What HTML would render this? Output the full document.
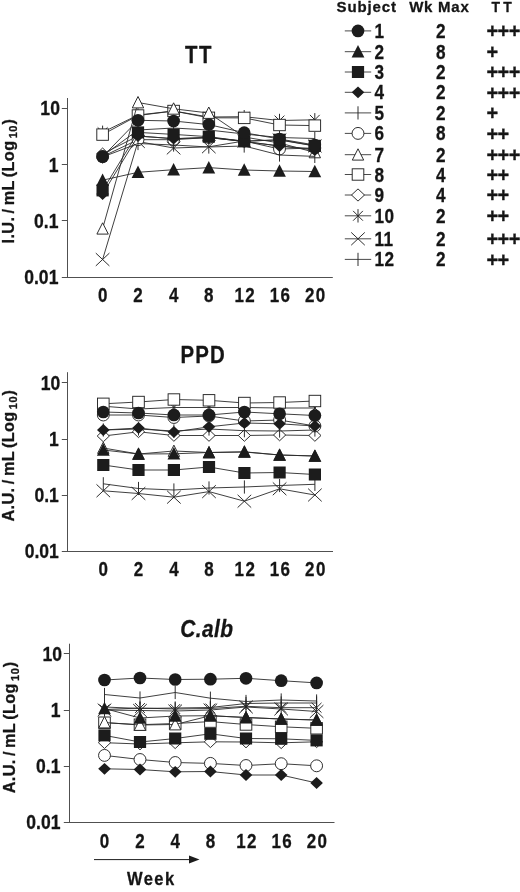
<!DOCTYPE html>
<html lang="en">
<head>
<meta charset="utf-8">
<title>Figure</title>
<style>
html,body{margin:0;padding:0;background:#fff;}
body{width:520px;height:892px;overflow:hidden;}
svg{display:block;will-change:transform;opacity:0.999;}
svg text{font-family:"Liberation Sans", Arial, Helvetica, sans-serif;fill:#151515;stroke:#151515;stroke-width:0.3px;stroke-linejoin:round;}
</style>
</head>
<body>
<svg width="520" height="892" viewBox="0 0 520 892">
<rect width="520" height="892" fill="#fff"/>
<g id="chart-tt">
<path d="M67.5 98.0V278.0M61.8 277.5H332.8" stroke="#505050" stroke-width="1" fill="none"/>
<path d="M61.8 108.5H67.5" stroke="#505050" stroke-width="1" fill="none"/>
<path d="M61.8 164.5H67.5" stroke="#505050" stroke-width="1" fill="none"/>
<path d="M61.8 220.5H67.5" stroke="#505050" stroke-width="1" fill="none"/>
<text transform="translate(59.90 115.20) scale(0.9 1)" text-anchor="end" style="font-size:19.5px;font-weight:700;">10</text>
<text transform="translate(58.40 171.50) scale(0.9 1)" text-anchor="end" style="font-size:19.5px;font-weight:700;">1</text>
<text transform="translate(58.40 227.80) scale(0.9 1)" text-anchor="end" style="font-size:19.5px;font-weight:700;">0.1</text>
<text transform="translate(58.40 284.10) scale(0.9 1)" text-anchor="end" style="font-size:19.5px;font-weight:700;">0.01</text>
<text transform="translate(102.60 302.40) scale(0.87 1)" text-anchor="middle" style="font-size:19.5px;font-weight:700;">0</text>
<text transform="translate(138.00 302.40) scale(0.87 1)" text-anchor="middle" style="font-size:19.5px;font-weight:700;">2</text>
<text transform="translate(173.60 302.40) scale(0.87 1)" text-anchor="middle" style="font-size:19.5px;font-weight:700;">4</text>
<text transform="translate(208.80 302.40) scale(0.87 1)" text-anchor="middle" style="font-size:19.5px;font-weight:700;">8</text>
<text transform="translate(245.20 302.40) scale(0.87 1)" text-anchor="middle" style="font-size:19.5px;font-weight:700;letter-spacing:1.6px;">12</text>
<text transform="translate(280.50 302.40) scale(0.87 1)" text-anchor="middle" style="font-size:19.5px;font-weight:700;letter-spacing:1.6px;">16</text>
<text transform="translate(315.80 302.40) scale(0.87 1)" text-anchor="middle" style="font-size:19.5px;font-weight:700;letter-spacing:1.6px;">20</text>
<text transform="translate(199.05 62.80) scale(0.83 1)" text-anchor="middle" style="font-size:24.6px;font-weight:700;letter-spacing:1.8px;">TT</text>
<text transform="translate(13.70 181.15) rotate(-90) scale(1.0 1)" text-anchor="middle" style="word-spacing:-1.6px;font-size:16.3px;font-weight:700;letter-spacing:0.35px;">I.U. / mL (Log<tspan style="word-spacing:-1.6px;font-size:11px;letter-spacing:0.6px" dy="3.6" dx="2.2">10</tspan><tspan dy="-3.6" dx="0.3">)</tspan></text>
<polyline points="102.6,156.0 138.0,130.0 173.6,128.0 208.8,130.0 244.2,134.0 279.5,137.5 314.8,138.5" fill="none" stroke="#2a2a2a" stroke-width="0.9"/>
<path d="M102.6 149.4V162.6" stroke="#242424" stroke-width="0.95" fill="none"/>
<path d="M138.0 123.4V136.6" stroke="#242424" stroke-width="0.95" fill="none"/>
<path d="M173.6 121.4V134.6" stroke="#242424" stroke-width="0.95" fill="none"/>
<path d="M208.8 123.4V136.6" stroke="#242424" stroke-width="0.95" fill="none"/>
<path d="M244.2 127.4V140.6" stroke="#242424" stroke-width="0.95" fill="none"/>
<path d="M279.5 130.9V144.1" stroke="#242424" stroke-width="0.95" fill="none"/>
<path d="M314.8 131.9V145.1" stroke="#242424" stroke-width="0.95" fill="none"/>
<polyline points="102.6,259.5 138.0,141.5 173.6,148.0 208.8,146.8 244.2,141.0 279.5,140.0 314.8,146.0" fill="none" stroke="#2a2a2a" stroke-width="0.9"/>
<path d="M95.8 253.1L109.4 265.9M95.8 265.9L109.4 253.1" stroke="#242424" stroke-width="0.95" fill="none"/>
<path d="M131.2 135.1L144.8 147.9M131.2 147.9L144.8 135.1" stroke="#242424" stroke-width="0.95" fill="none"/>
<path d="M166.8 141.6L180.4 154.4M166.8 154.4L180.4 141.6" stroke="#242424" stroke-width="0.95" fill="none"/>
<path d="M202.0 140.4L215.6 153.2M202.0 153.2L215.6 140.4" stroke="#242424" stroke-width="0.95" fill="none"/>
<path d="M237.4 134.6L251.0 147.4M237.4 147.4L251.0 134.6" stroke="#242424" stroke-width="0.95" fill="none"/>
<path d="M272.7 133.6L286.3 146.4M272.7 146.4L286.3 133.6" stroke="#242424" stroke-width="0.95" fill="none"/>
<path d="M308.0 139.6L321.6 152.4M308.0 152.4L321.6 139.6" stroke="#242424" stroke-width="0.95" fill="none"/>
<polyline points="102.6,132.3 138.0,115.0 173.6,111.0 208.8,117.0 244.2,116.7 279.5,120.5 314.8,119.8" fill="none" stroke="#2a2a2a" stroke-width="0.9"/>
<path d="M97.7 127.4L107.5 137.2M97.7 137.2L107.5 127.4M102.6 125.6V139.0" stroke="#242424" stroke-width="0.95" fill="none"/>
<path d="M133.1 110.1L142.9 119.9M133.1 119.9L142.9 110.1M138.0 108.3V121.7" stroke="#242424" stroke-width="0.95" fill="none"/>
<path d="M168.7 106.1L178.5 115.9M168.7 115.9L178.5 106.1M173.6 104.3V117.7" stroke="#242424" stroke-width="0.95" fill="none"/>
<path d="M203.9 112.1L213.7 121.9M203.9 121.9L213.7 112.1M208.8 110.3V123.7" stroke="#242424" stroke-width="0.95" fill="none"/>
<path d="M239.3 111.8L249.1 121.6M239.3 121.6L249.1 111.8M244.2 110.0V123.4" stroke="#242424" stroke-width="0.95" fill="none"/>
<path d="M274.6 115.6L284.4 125.4M274.6 125.4L284.4 115.6M279.5 113.8V127.2" stroke="#242424" stroke-width="0.95" fill="none"/>
<path d="M309.9 114.9L319.7 124.7M309.9 124.7L319.7 114.9M314.8 113.1V126.5" stroke="#242424" stroke-width="0.95" fill="none"/>
<polyline points="102.6,153.8 138.0,136.0 173.6,138.7 208.8,137.5 244.2,141.5 279.5,146.0 314.8,149.0" fill="none" stroke="#2a2a2a" stroke-width="0.9"/>
<path d="M96.5 153.8L102.6 148.0L108.7 153.8L102.6 159.6Z" fill="#fff" stroke="#242424" stroke-width="0.95"/>
<path d="M131.9 136.0L138.0 130.2L144.1 136.0L138.0 141.8Z" fill="#fff" stroke="#242424" stroke-width="0.95"/>
<path d="M167.5 138.7L173.6 132.9L179.7 138.7L173.6 144.5Z" fill="#fff" stroke="#242424" stroke-width="0.95"/>
<path d="M202.7 137.5L208.8 131.7L214.9 137.5L208.8 143.3Z" fill="#fff" stroke="#242424" stroke-width="0.95"/>
<path d="M238.1 141.5L244.2 135.7L250.3 141.5L244.2 147.3Z" fill="#fff" stroke="#242424" stroke-width="0.95"/>
<path d="M273.4 146.0L279.5 140.2L285.6 146.0L279.5 151.8Z" fill="#fff" stroke="#242424" stroke-width="0.95"/>
<path d="M308.7 149.0L314.8 143.2L320.9 149.0L314.8 154.8Z" fill="#fff" stroke="#242424" stroke-width="0.95"/>
<polyline points="102.6,134.6 138.0,115.5 173.6,111.0 208.8,117.8 244.2,117.9 279.5,125.0 314.8,125.6" fill="none" stroke="#2a2a2a" stroke-width="0.9"/>
<rect x="96.8" y="128.9" width="11.6" height="11.4" fill="#fff" stroke="#242424" stroke-width="0.95"/>
<rect x="132.2" y="109.8" width="11.6" height="11.4" fill="#fff" stroke="#242424" stroke-width="0.95"/>
<rect x="167.8" y="105.3" width="11.6" height="11.4" fill="#fff" stroke="#242424" stroke-width="0.95"/>
<rect x="203.0" y="112.1" width="11.6" height="11.4" fill="#fff" stroke="#242424" stroke-width="0.95"/>
<rect x="238.4" y="112.2" width="11.6" height="11.4" fill="#fff" stroke="#242424" stroke-width="0.95"/>
<rect x="273.7" y="119.3" width="11.6" height="11.4" fill="#fff" stroke="#242424" stroke-width="0.95"/>
<rect x="309.0" y="119.9" width="11.6" height="11.4" fill="#fff" stroke="#242424" stroke-width="0.95"/>
<polyline points="102.6,228.7 138.0,102.5 173.6,108.8 208.8,113.0 244.2,137.0 279.5,143.0 314.8,152.4" fill="none" stroke="#2a2a2a" stroke-width="0.9"/>
<path d="M96.9 234.1L102.6 222.8L108.3 234.1Z" fill="#fff" stroke="#242424" stroke-width="0.95" stroke-linejoin="miter"/>
<path d="M132.3 107.9L138.0 96.5L143.7 107.9Z" fill="#fff" stroke="#242424" stroke-width="0.95" stroke-linejoin="miter"/>
<path d="M167.9 114.2L173.6 102.8L179.3 114.2Z" fill="#fff" stroke="#242424" stroke-width="0.95" stroke-linejoin="miter"/>
<path d="M203.1 118.4L208.8 107.0L214.5 118.4Z" fill="#fff" stroke="#242424" stroke-width="0.95" stroke-linejoin="miter"/>
<path d="M238.5 142.4L244.2 131.1L249.9 142.4Z" fill="#fff" stroke="#242424" stroke-width="0.95" stroke-linejoin="miter"/>
<path d="M273.8 148.4L279.5 137.1L285.2 148.4Z" fill="#fff" stroke="#242424" stroke-width="0.95" stroke-linejoin="miter"/>
<path d="M309.1 157.8L314.8 146.5L320.5 157.8Z" fill="#fff" stroke="#242424" stroke-width="0.95" stroke-linejoin="miter"/>
<polyline points="102.6,156.5 138.0,139.7 173.6,139.7 208.8,137.5 244.2,141.0 279.5,149.0 314.8,148.0" fill="none" stroke="#2a2a2a" stroke-width="0.9"/>
<circle cx="102.6" cy="156.5" r="5.95" fill="#fff" stroke="#242424" stroke-width="0.95"/>
<circle cx="138.0" cy="139.7" r="5.95" fill="#fff" stroke="#242424" stroke-width="0.95"/>
<circle cx="173.6" cy="139.7" r="5.95" fill="#fff" stroke="#242424" stroke-width="0.95"/>
<circle cx="208.8" cy="137.5" r="5.95" fill="#fff" stroke="#242424" stroke-width="0.95"/>
<circle cx="244.2" cy="141.0" r="5.95" fill="#fff" stroke="#242424" stroke-width="0.95"/>
<circle cx="279.5" cy="149.0" r="5.95" fill="#fff" stroke="#242424" stroke-width="0.95"/>
<circle cx="314.8" cy="148.0" r="5.95" fill="#fff" stroke="#242424" stroke-width="0.95"/>
<polyline points="102.6,157.0 138.0,143.5 173.6,145.0 208.8,147.0 244.2,146.0 279.5,155.0 314.8,156.4" fill="none" stroke="#2a2a2a" stroke-width="0.9"/>
<path d="M102.6 150.4V163.6" stroke="#242424" stroke-width="0.95" fill="none"/>
<path d="M138.0 136.9V150.1" stroke="#242424" stroke-width="0.95" fill="none"/>
<path d="M173.6 138.4V151.6" stroke="#242424" stroke-width="0.95" fill="none"/>
<path d="M208.8 140.4V153.6" stroke="#242424" stroke-width="0.95" fill="none"/>
<path d="M244.2 139.4V152.6" stroke="#242424" stroke-width="0.95" fill="none"/>
<path d="M279.5 148.4V161.6" stroke="#242424" stroke-width="0.95" fill="none"/>
<path d="M314.8 149.8V163.0" stroke="#242424" stroke-width="0.95" fill="none"/>
<polyline points="102.6,194.0 138.0,136.0 173.6,138.7 208.8,137.5 244.2,141.5 279.5,146.0 314.8,150.0" fill="none" stroke="#2a2a2a" stroke-width="0.9"/>
<path d="M96.3 194.0L102.6 188.1L108.9 194.0L102.6 199.9Z" fill="#1c1c1c"/>
<path d="M131.7 136.0L138.0 130.1L144.3 136.0L138.0 141.9Z" fill="#1c1c1c"/>
<path d="M167.3 138.7L173.6 132.8L179.9 138.7L173.6 144.6Z" fill="#1c1c1c"/>
<path d="M202.5 137.5L208.8 131.6L215.1 137.5L208.8 143.4Z" fill="#1c1c1c"/>
<path d="M237.9 141.5L244.2 135.6L250.5 141.5L244.2 147.4Z" fill="#1c1c1c"/>
<path d="M273.2 146.0L279.5 140.1L285.8 146.0L279.5 151.9Z" fill="#1c1c1c"/>
<path d="M308.5 150.0L314.8 144.1L321.1 150.0L314.8 155.9Z" fill="#1c1c1c"/>
<polyline points="102.6,190.4 138.0,132.4 173.6,134.4 208.8,136.7 244.2,141.4 279.5,139.7 314.8,145.8" fill="none" stroke="#2a2a2a" stroke-width="0.9"/>
<rect x="96.5" y="184.4" width="12.2" height="12.0" fill="#1c1c1c"/>
<rect x="131.9" y="126.4" width="12.2" height="12.0" fill="#1c1c1c"/>
<rect x="167.5" y="128.4" width="12.2" height="12.0" fill="#1c1c1c"/>
<rect x="202.7" y="130.7" width="12.2" height="12.0" fill="#1c1c1c"/>
<rect x="238.1" y="135.4" width="12.2" height="12.0" fill="#1c1c1c"/>
<rect x="273.4" y="133.7" width="12.2" height="12.0" fill="#1c1c1c"/>
<rect x="308.7" y="139.8" width="12.2" height="12.0" fill="#1c1c1c"/>
<polyline points="102.6,180.2 138.0,172.3 173.6,169.7 208.8,167.6 244.2,170.0 279.5,171.0 314.8,171.5" fill="none" stroke="#2a2a2a" stroke-width="0.9"/>
<path d="M96.2 186.0L102.6 173.5L109.0 186.0Z" fill="#1c1c1c"/>
<path d="M131.6 178.1L138.0 165.6L144.4 178.1Z" fill="#1c1c1c"/>
<path d="M167.2 175.5L173.6 163.0L180.0 175.5Z" fill="#1c1c1c"/>
<path d="M202.4 173.4L208.8 160.9L215.2 173.4Z" fill="#1c1c1c"/>
<path d="M237.8 175.8L244.2 163.3L250.6 175.8Z" fill="#1c1c1c"/>
<path d="M273.1 176.8L279.5 164.3L285.9 176.8Z" fill="#1c1c1c"/>
<path d="M308.4 177.3L314.8 164.8L321.2 177.3Z" fill="#1c1c1c"/>
<polyline points="102.6,156.7 138.0,120.3 173.6,121.0 208.8,124.6 244.2,132.7 279.5,139.0 314.8,145.0" fill="none" stroke="#2a2a2a" stroke-width="0.9"/>
<circle cx="102.6" cy="156.7" r="6.35" fill="#1c1c1c"/>
<circle cx="138.0" cy="120.3" r="6.35" fill="#1c1c1c"/>
<circle cx="173.6" cy="121.0" r="6.35" fill="#1c1c1c"/>
<circle cx="208.8" cy="124.6" r="6.35" fill="#1c1c1c"/>
<circle cx="244.2" cy="132.7" r="6.35" fill="#1c1c1c"/>
<circle cx="279.5" cy="139.0" r="6.35" fill="#1c1c1c"/>
<circle cx="314.8" cy="145.0" r="6.35" fill="#1c1c1c"/>
</g>
<g id="chart-ppd">
<path d="M67.5 372.2V552.0M61.8 551.5H333" stroke="#505050" stroke-width="1" fill="none"/>
<path d="M61.8 382.5H67.5" stroke="#505050" stroke-width="1" fill="none"/>
<path d="M61.8 439.5H67.5" stroke="#505050" stroke-width="1" fill="none"/>
<path d="M61.8 495.5H67.5" stroke="#505050" stroke-width="1" fill="none"/>
<text transform="translate(60.30 389.80) scale(0.9 1)" text-anchor="end" style="font-size:19.5px;font-weight:700;">10</text>
<text transform="translate(58.80 446.00) scale(0.9 1)" text-anchor="end" style="font-size:19.5px;font-weight:700;">1</text>
<text transform="translate(58.80 502.20) scale(0.9 1)" text-anchor="end" style="font-size:19.5px;font-weight:700;">0.1</text>
<text transform="translate(58.80 558.30) scale(0.9 1)" text-anchor="end" style="font-size:19.5px;font-weight:700;">0.01</text>
<text transform="translate(103.30 576.20) scale(0.87 1)" text-anchor="middle" style="font-size:19.5px;font-weight:700;">0</text>
<text transform="translate(138.50 576.20) scale(0.87 1)" text-anchor="middle" style="font-size:19.5px;font-weight:700;">2</text>
<text transform="translate(173.90 576.20) scale(0.87 1)" text-anchor="middle" style="font-size:19.5px;font-weight:700;">4</text>
<text transform="translate(209.00 576.20) scale(0.87 1)" text-anchor="middle" style="font-size:19.5px;font-weight:700;">8</text>
<text transform="translate(245.40 576.20) scale(0.87 1)" text-anchor="middle" style="font-size:19.5px;font-weight:700;letter-spacing:1.6px;">12</text>
<text transform="translate(280.60 576.20) scale(0.87 1)" text-anchor="middle" style="font-size:19.5px;font-weight:700;letter-spacing:1.6px;">16</text>
<text transform="translate(315.90 576.20) scale(0.87 1)" text-anchor="middle" style="font-size:19.5px;font-weight:700;letter-spacing:1.6px;">20</text>
<text transform="translate(203.18 363.20) scale(0.83 1)" text-anchor="middle" style="font-size:24.6px;font-weight:700;letter-spacing:1.4px;">PPD</text>
<text transform="translate(13.70 455.55) rotate(-90) scale(1.0 1)" text-anchor="middle" style="word-spacing:-1.6px;font-size:16.3px;font-weight:700;letter-spacing:0.35px;">A.U. / mL (Log<tspan style="word-spacing:-1.6px;font-size:11px;letter-spacing:0.6px" dy="3.6" dx="2.2">10</tspan><tspan dy="-3.6" dx="0.3">)</tspan></text>
<polyline points="103.3,483.8 138.5,488.5 173.9,490.0 209.0,488.0 244.4,487.0 279.6,485.5 314.9,484.3" fill="none" stroke="#2a2a2a" stroke-width="0.9"/>
<path d="M103.3 477.2V490.4" stroke="#242424" stroke-width="0.95" fill="none"/>
<path d="M138.5 481.9V495.1" stroke="#242424" stroke-width="0.95" fill="none"/>
<path d="M173.9 483.4V496.6" stroke="#242424" stroke-width="0.95" fill="none"/>
<path d="M209.0 481.4V494.6" stroke="#242424" stroke-width="0.95" fill="none"/>
<path d="M244.4 480.4V493.6" stroke="#242424" stroke-width="0.95" fill="none"/>
<path d="M279.6 478.9V492.1" stroke="#242424" stroke-width="0.95" fill="none"/>
<path d="M314.9 477.7V490.9" stroke="#242424" stroke-width="0.95" fill="none"/>
<polyline points="103.3,490.8 138.5,493.5 173.9,497.2 209.0,491.6 244.4,501.2 279.6,488.8 314.9,495.0" fill="none" stroke="#2a2a2a" stroke-width="0.9"/>
<path d="M96.5 484.4L110.1 497.2M96.5 497.2L110.1 484.4" stroke="#242424" stroke-width="0.95" fill="none"/>
<path d="M131.7 487.1L145.3 499.9M131.7 499.9L145.3 487.1" stroke="#242424" stroke-width="0.95" fill="none"/>
<path d="M167.1 490.8L180.7 503.6M167.1 503.6L180.7 490.8" stroke="#242424" stroke-width="0.95" fill="none"/>
<path d="M202.2 485.2L215.8 498.0M202.2 498.0L215.8 485.2" stroke="#242424" stroke-width="0.95" fill="none"/>
<path d="M237.6 494.8L251.2 507.6M237.6 507.6L251.2 494.8" stroke="#242424" stroke-width="0.95" fill="none"/>
<path d="M272.8 482.4L286.4 495.2M272.8 495.2L286.4 482.4" stroke="#242424" stroke-width="0.95" fill="none"/>
<path d="M308.1 488.6L321.7 501.4M308.1 501.4L321.7 488.6" stroke="#242424" stroke-width="0.95" fill="none"/>
<polyline points="103.3,406.2 138.5,409.0 173.9,407.5 209.0,407.5 244.4,407.5 279.6,408.0 314.9,408.0" fill="none" stroke="#2a2a2a" stroke-width="0.9"/>
<path d="M98.4 401.3L108.2 411.1M98.4 411.1L108.2 401.3M103.3 399.5V412.9" stroke="#242424" stroke-width="0.95" fill="none"/>
<path d="M133.6 404.1L143.4 413.9M133.6 413.9L143.4 404.1M138.5 402.3V415.7" stroke="#242424" stroke-width="0.95" fill="none"/>
<path d="M169.0 402.6L178.8 412.4M169.0 412.4L178.8 402.6M173.9 400.8V414.2" stroke="#242424" stroke-width="0.95" fill="none"/>
<path d="M204.1 402.6L213.9 412.4M204.1 412.4L213.9 402.6M209.0 400.8V414.2" stroke="#242424" stroke-width="0.95" fill="none"/>
<path d="M239.5 402.6L249.3 412.4M239.5 412.4L249.3 402.6M244.4 400.8V414.2" stroke="#242424" stroke-width="0.95" fill="none"/>
<path d="M274.7 403.1L284.5 412.9M274.7 412.9L284.5 403.1M279.6 401.3V414.7" stroke="#242424" stroke-width="0.95" fill="none"/>
<path d="M310.0 403.1L319.8 412.9M310.0 412.9L319.8 403.1M314.9 401.3V414.7" stroke="#242424" stroke-width="0.95" fill="none"/>
<polyline points="103.3,436.0 138.5,431.8 173.9,435.5 209.0,435.5 244.4,435.5 279.6,435.0 314.9,435.5" fill="none" stroke="#2a2a2a" stroke-width="0.9"/>
<path d="M97.2 436.0L103.3 430.2L109.4 436.0L103.3 441.8Z" fill="#fff" stroke="#242424" stroke-width="0.95"/>
<path d="M132.4 431.8L138.5 426.0L144.6 431.8L138.5 437.6Z" fill="#fff" stroke="#242424" stroke-width="0.95"/>
<path d="M167.8 435.5L173.9 429.7L180.0 435.5L173.9 441.3Z" fill="#fff" stroke="#242424" stroke-width="0.95"/>
<path d="M202.9 435.5L209.0 429.7L215.1 435.5L209.0 441.3Z" fill="#fff" stroke="#242424" stroke-width="0.95"/>
<path d="M238.3 435.5L244.4 429.7L250.5 435.5L244.4 441.3Z" fill="#fff" stroke="#242424" stroke-width="0.95"/>
<path d="M273.5 435.0L279.6 429.2L285.7 435.0L279.6 440.8Z" fill="#fff" stroke="#242424" stroke-width="0.95"/>
<path d="M308.8 435.5L314.9 429.7L321.0 435.5L314.9 441.3Z" fill="#fff" stroke="#242424" stroke-width="0.95"/>
<polyline points="103.3,403.8 138.5,402.0 173.9,399.5 209.0,400.3 244.4,403.0 279.6,402.5 314.9,401.0" fill="none" stroke="#2a2a2a" stroke-width="0.9"/>
<rect x="97.5" y="398.1" width="11.6" height="11.4" fill="#fff" stroke="#242424" stroke-width="0.95"/>
<rect x="132.7" y="396.3" width="11.6" height="11.4" fill="#fff" stroke="#242424" stroke-width="0.95"/>
<rect x="168.1" y="393.8" width="11.6" height="11.4" fill="#fff" stroke="#242424" stroke-width="0.95"/>
<rect x="203.2" y="394.6" width="11.6" height="11.4" fill="#fff" stroke="#242424" stroke-width="0.95"/>
<rect x="238.6" y="397.3" width="11.6" height="11.4" fill="#fff" stroke="#242424" stroke-width="0.95"/>
<rect x="273.8" y="396.8" width="11.6" height="11.4" fill="#fff" stroke="#242424" stroke-width="0.95"/>
<rect x="309.1" y="395.3" width="11.6" height="11.4" fill="#fff" stroke="#242424" stroke-width="0.95"/>
<polyline points="103.3,448.0 138.5,454.0 173.9,451.0 209.0,452.5 244.4,452.0 279.6,455.0 314.9,456.0" fill="none" stroke="#2a2a2a" stroke-width="0.9"/>
<path d="M97.6 453.4L103.3 442.1L109.0 453.4Z" fill="#fff" stroke="#242424" stroke-width="0.95" stroke-linejoin="miter"/>
<path d="M132.8 459.4L138.5 448.1L144.2 459.4Z" fill="#fff" stroke="#242424" stroke-width="0.95" stroke-linejoin="miter"/>
<path d="M168.2 456.4L173.9 445.1L179.6 456.4Z" fill="#fff" stroke="#242424" stroke-width="0.95" stroke-linejoin="miter"/>
<path d="M203.3 457.9L209.0 446.6L214.7 457.9Z" fill="#fff" stroke="#242424" stroke-width="0.95" stroke-linejoin="miter"/>
<path d="M238.7 457.4L244.4 446.1L250.1 457.4Z" fill="#fff" stroke="#242424" stroke-width="0.95" stroke-linejoin="miter"/>
<path d="M273.9 460.4L279.6 449.1L285.3 460.4Z" fill="#fff" stroke="#242424" stroke-width="0.95" stroke-linejoin="miter"/>
<path d="M309.2 461.4L314.9 450.1L320.6 461.4Z" fill="#fff" stroke="#242424" stroke-width="0.95" stroke-linejoin="miter"/>
<polyline points="103.3,415.0 138.5,415.0 173.9,417.5 209.0,416.0 244.4,421.0 279.6,420.0 314.9,426.0" fill="none" stroke="#2a2a2a" stroke-width="0.9"/>
<circle cx="103.3" cy="415.0" r="5.95" fill="#fff" stroke="#242424" stroke-width="0.95"/>
<circle cx="138.5" cy="415.0" r="5.95" fill="#fff" stroke="#242424" stroke-width="0.95"/>
<circle cx="173.9" cy="417.5" r="5.95" fill="#fff" stroke="#242424" stroke-width="0.95"/>
<circle cx="209.0" cy="416.0" r="5.95" fill="#fff" stroke="#242424" stroke-width="0.95"/>
<circle cx="244.4" cy="421.0" r="5.95" fill="#fff" stroke="#242424" stroke-width="0.95"/>
<circle cx="279.6" cy="420.0" r="5.95" fill="#fff" stroke="#242424" stroke-width="0.95"/>
<circle cx="314.9" cy="426.0" r="5.95" fill="#fff" stroke="#242424" stroke-width="0.95"/>
<polyline points="103.3,430.0 138.5,429.0 173.9,431.0 209.0,429.0 244.4,430.7 279.6,431.0 314.9,430.0" fill="none" stroke="#2a2a2a" stroke-width="0.9"/>
<path d="M103.3 423.4V436.6" stroke="#242424" stroke-width="0.95" fill="none"/>
<path d="M138.5 422.4V435.6" stroke="#242424" stroke-width="0.95" fill="none"/>
<path d="M173.9 424.4V437.6" stroke="#242424" stroke-width="0.95" fill="none"/>
<path d="M209.0 422.4V435.6" stroke="#242424" stroke-width="0.95" fill="none"/>
<path d="M244.4 424.1V437.3" stroke="#242424" stroke-width="0.95" fill="none"/>
<path d="M279.6 424.4V437.6" stroke="#242424" stroke-width="0.95" fill="none"/>
<path d="M314.9 423.4V436.6" stroke="#242424" stroke-width="0.95" fill="none"/>
<polyline points="103.3,430.0 138.5,428.0 173.9,432.0 209.0,426.8 244.4,423.0 279.6,423.8 314.9,426.0" fill="none" stroke="#2a2a2a" stroke-width="0.9"/>
<path d="M97.0 430.0L103.3 424.1L109.6 430.0L103.3 435.9Z" fill="#1c1c1c"/>
<path d="M132.2 428.0L138.5 422.1L144.8 428.0L138.5 433.9Z" fill="#1c1c1c"/>
<path d="M167.6 432.0L173.9 426.1L180.2 432.0L173.9 437.9Z" fill="#1c1c1c"/>
<path d="M202.7 426.8L209.0 420.9L215.3 426.8L209.0 432.7Z" fill="#1c1c1c"/>
<path d="M238.1 423.0L244.4 417.1L250.7 423.0L244.4 428.9Z" fill="#1c1c1c"/>
<path d="M273.3 423.8L279.6 417.9L285.9 423.8L279.6 429.7Z" fill="#1c1c1c"/>
<path d="M308.6 426.0L314.9 420.1L321.2 426.0L314.9 431.9Z" fill="#1c1c1c"/>
<polyline points="103.3,465.0 138.5,470.0 173.9,470.0 209.0,467.0 244.4,473.0 279.6,472.5 314.9,474.5" fill="none" stroke="#2a2a2a" stroke-width="0.9"/>
<rect x="97.2" y="459.0" width="12.2" height="12.0" fill="#1c1c1c"/>
<rect x="132.4" y="464.0" width="12.2" height="12.0" fill="#1c1c1c"/>
<rect x="167.8" y="464.0" width="12.2" height="12.0" fill="#1c1c1c"/>
<rect x="202.9" y="461.0" width="12.2" height="12.0" fill="#1c1c1c"/>
<rect x="238.3" y="467.0" width="12.2" height="12.0" fill="#1c1c1c"/>
<rect x="273.5" y="466.5" width="12.2" height="12.0" fill="#1c1c1c"/>
<rect x="308.8" y="468.5" width="12.2" height="12.0" fill="#1c1c1c"/>
<polyline points="103.3,450.0 138.5,454.0 173.9,453.8 209.0,452.5 244.4,451.8 279.6,455.0 314.9,456.0" fill="none" stroke="#2a2a2a" stroke-width="0.9"/>
<path d="M96.9 455.8L103.3 443.3L109.7 455.8Z" fill="#1c1c1c"/>
<path d="M132.1 459.8L138.5 447.3L144.9 459.8Z" fill="#1c1c1c"/>
<path d="M167.5 459.6L173.9 447.1L180.3 459.6Z" fill="#1c1c1c"/>
<path d="M202.6 458.3L209.0 445.8L215.4 458.3Z" fill="#1c1c1c"/>
<path d="M238.0 457.6L244.4 445.1L250.8 457.6Z" fill="#1c1c1c"/>
<path d="M273.2 460.8L279.6 448.3L286.0 460.8Z" fill="#1c1c1c"/>
<path d="M308.5 461.8L314.9 449.3L321.3 461.8Z" fill="#1c1c1c"/>
<polyline points="103.3,412.0 138.5,413.0 173.9,415.0 209.0,415.0 244.4,412.0 279.6,413.8 314.9,415.5" fill="none" stroke="#2a2a2a" stroke-width="0.9"/>
<circle cx="103.3" cy="412.0" r="6.35" fill="#1c1c1c"/>
<circle cx="138.5" cy="413.0" r="6.35" fill="#1c1c1c"/>
<circle cx="173.9" cy="415.0" r="6.35" fill="#1c1c1c"/>
<circle cx="209.0" cy="415.0" r="6.35" fill="#1c1c1c"/>
<circle cx="244.4" cy="412.0" r="6.35" fill="#1c1c1c"/>
<circle cx="279.6" cy="413.8" r="6.35" fill="#1c1c1c"/>
<circle cx="314.9" cy="415.5" r="6.35" fill="#1c1c1c"/>
</g>
<g id="chart-calb">
<path d="M69.5 643.7V823.0M63.8 822.5H334.5" stroke="#505050" stroke-width="1" fill="none"/>
<path d="M63.8 653.5H69.5" stroke="#505050" stroke-width="1" fill="none"/>
<path d="M63.8 710.5H69.5" stroke="#505050" stroke-width="1" fill="none"/>
<path d="M63.8 766.5H69.5" stroke="#505050" stroke-width="1" fill="none"/>
<text transform="translate(62.00 660.60) scale(0.9 1)" text-anchor="end" style="font-size:19.5px;font-weight:700;">10</text>
<text transform="translate(60.50 717.20) scale(0.9 1)" text-anchor="end" style="font-size:19.5px;font-weight:700;">1</text>
<text transform="translate(60.50 773.00) scale(0.9 1)" text-anchor="end" style="font-size:19.5px;font-weight:700;">0.1</text>
<text transform="translate(60.50 829.20) scale(0.9 1)" text-anchor="end" style="font-size:19.5px;font-weight:700;">0.01</text>
<text transform="translate(104.50 847.80) scale(0.87 1)" text-anchor="middle" style="font-size:19.5px;font-weight:700;">0</text>
<text transform="translate(140.00 847.80) scale(0.87 1)" text-anchor="middle" style="font-size:19.5px;font-weight:700;">2</text>
<text transform="translate(175.20 847.80) scale(0.87 1)" text-anchor="middle" style="font-size:19.5px;font-weight:700;">4</text>
<text transform="translate(210.40 847.80) scale(0.87 1)" text-anchor="middle" style="font-size:19.5px;font-weight:700;">8</text>
<text transform="translate(247.00 847.80) scale(0.87 1)" text-anchor="middle" style="font-size:19.5px;font-weight:700;letter-spacing:1.6px;">12</text>
<text transform="translate(282.20 847.80) scale(0.87 1)" text-anchor="middle" style="font-size:19.5px;font-weight:700;letter-spacing:1.6px;">16</text>
<text transform="translate(317.60 847.80) scale(0.87 1)" text-anchor="middle" style="font-size:19.5px;font-weight:700;letter-spacing:1.6px;">20</text>
<text transform="translate(206.83 636.80) scale(0.85 1)" text-anchor="middle" style="font-size:24.6px;font-weight:700;letter-spacing:0.55px;font-style:italic;">C.alb</text>
<text transform="translate(14.90 727.40) rotate(-90) scale(1.0 1)" text-anchor="middle" style="word-spacing:-1.6px;font-size:16.3px;font-weight:700;letter-spacing:0.35px;">A.U. / mL (Log<tspan style="word-spacing:-1.6px;font-size:11px;letter-spacing:0.6px" dy="3.6" dx="2.2">10</tspan><tspan dy="-3.6" dx="0.3">)</tspan></text>
<polyline points="104.5,707.0 140.0,708.5 175.2,708.0 210.4,707.5 246.0,703.5 281.2,703.0 316.6,703.0" fill="none" stroke="#2a2a2a" stroke-width="0.9"/>
<path d="M104.5 700.4V713.6" stroke="#242424" stroke-width="0.95" fill="none"/>
<path d="M140.0 701.9V715.1" stroke="#242424" stroke-width="0.95" fill="none"/>
<path d="M175.2 701.4V714.6" stroke="#242424" stroke-width="0.95" fill="none"/>
<path d="M210.4 700.9V714.1" stroke="#242424" stroke-width="0.95" fill="none"/>
<path d="M246.0 696.9V710.1" stroke="#242424" stroke-width="0.95" fill="none"/>
<path d="M281.2 696.4V709.6" stroke="#242424" stroke-width="0.95" fill="none"/>
<path d="M316.6 696.4V709.6" stroke="#242424" stroke-width="0.95" fill="none"/>
<polyline points="104.5,710.0 140.0,710.5 175.2,711.0 210.4,710.0 246.0,707.0 281.2,709.0 316.6,711.5" fill="none" stroke="#2a2a2a" stroke-width="0.9"/>
<path d="M97.7 703.6L111.3 716.4M97.7 716.4L111.3 703.6" stroke="#242424" stroke-width="0.95" fill="none"/>
<path d="M133.2 704.1L146.8 716.9M133.2 716.9L146.8 704.1" stroke="#242424" stroke-width="0.95" fill="none"/>
<path d="M168.4 704.6L182.0 717.4M168.4 717.4L182.0 704.6" stroke="#242424" stroke-width="0.95" fill="none"/>
<path d="M203.6 703.6L217.2 716.4M203.6 716.4L217.2 703.6" stroke="#242424" stroke-width="0.95" fill="none"/>
<path d="M239.2 700.6L252.8 713.4M239.2 713.4L252.8 700.6" stroke="#242424" stroke-width="0.95" fill="none"/>
<path d="M274.4 702.6L288.0 715.4M274.4 715.4L288.0 702.6" stroke="#242424" stroke-width="0.95" fill="none"/>
<path d="M309.8 705.1L323.4 717.9M309.8 717.9L323.4 705.1" stroke="#242424" stroke-width="0.95" fill="none"/>
<polyline points="104.5,709.5 140.0,708.0 175.2,709.0 210.4,708.5 246.0,706.3 281.2,707.7 316.6,707.7" fill="none" stroke="#2a2a2a" stroke-width="0.9"/>
<path d="M99.6 704.6L109.4 714.4M99.6 714.4L109.4 704.6M104.5 702.8V716.2" stroke="#242424" stroke-width="0.95" fill="none"/>
<path d="M135.1 703.1L144.9 712.9M135.1 712.9L144.9 703.1M140.0 701.3V714.7" stroke="#242424" stroke-width="0.95" fill="none"/>
<path d="M170.3 704.1L180.1 713.9M170.3 713.9L180.1 704.1M175.2 702.3V715.7" stroke="#242424" stroke-width="0.95" fill="none"/>
<path d="M205.5 703.6L215.3 713.4M205.5 713.4L215.3 703.6M210.4 701.8V715.2" stroke="#242424" stroke-width="0.95" fill="none"/>
<path d="M241.1 701.4L250.9 711.2M241.1 711.2L250.9 701.4M246.0 699.6V713.0" stroke="#242424" stroke-width="0.95" fill="none"/>
<path d="M276.3 702.8L286.1 712.6M276.3 712.6L286.1 702.8M281.2 701.0V714.4" stroke="#242424" stroke-width="0.95" fill="none"/>
<path d="M311.7 702.8L321.5 712.6M311.7 712.6L321.5 702.8M316.6 701.0V714.4" stroke="#242424" stroke-width="0.95" fill="none"/>
<polyline points="104.5,742.7 140.0,744.0 175.2,742.8 210.4,741.8 246.0,742.0 281.2,742.8 316.6,741.8" fill="none" stroke="#2a2a2a" stroke-width="0.9"/>
<path d="M98.4 742.7L104.5 736.9L110.6 742.7L104.5 748.5Z" fill="#fff" stroke="#242424" stroke-width="0.95"/>
<path d="M133.9 744.0L140.0 738.2L146.1 744.0L140.0 749.8Z" fill="#fff" stroke="#242424" stroke-width="0.95"/>
<path d="M169.1 742.8L175.2 737.0L181.3 742.8L175.2 748.6Z" fill="#fff" stroke="#242424" stroke-width="0.95"/>
<path d="M204.3 741.8L210.4 736.0L216.5 741.8L210.4 747.6Z" fill="#fff" stroke="#242424" stroke-width="0.95"/>
<path d="M239.9 742.0L246.0 736.2L252.1 742.0L246.0 747.8Z" fill="#fff" stroke="#242424" stroke-width="0.95"/>
<path d="M275.1 742.8L281.2 737.0L287.3 742.8L281.2 748.6Z" fill="#fff" stroke="#242424" stroke-width="0.95"/>
<path d="M310.5 741.8L316.6 736.0L322.7 741.8L316.6 747.6Z" fill="#fff" stroke="#242424" stroke-width="0.95"/>
<polyline points="104.5,722.7 140.0,724.7 175.2,723.5 210.4,721.6 246.0,724.5 281.2,726.8 316.6,728.3" fill="none" stroke="#2a2a2a" stroke-width="0.9"/>
<rect x="98.7" y="717.0" width="11.6" height="11.4" fill="#fff" stroke="#242424" stroke-width="0.95"/>
<rect x="134.2" y="719.0" width="11.6" height="11.4" fill="#fff" stroke="#242424" stroke-width="0.95"/>
<rect x="169.4" y="717.8" width="11.6" height="11.4" fill="#fff" stroke="#242424" stroke-width="0.95"/>
<rect x="204.6" y="715.9" width="11.6" height="11.4" fill="#fff" stroke="#242424" stroke-width="0.95"/>
<rect x="240.2" y="718.8" width="11.6" height="11.4" fill="#fff" stroke="#242424" stroke-width="0.95"/>
<rect x="275.4" y="721.1" width="11.6" height="11.4" fill="#fff" stroke="#242424" stroke-width="0.95"/>
<rect x="310.8" y="722.6" width="11.6" height="11.4" fill="#fff" stroke="#242424" stroke-width="0.95"/>
<polyline points="104.5,722.5 140.0,725.0 175.2,724.5 210.4,715.7 246.0,717.5 281.2,719.0 316.6,720.0" fill="none" stroke="#2a2a2a" stroke-width="0.9"/>
<path d="M98.8 727.9L104.5 716.5L110.2 727.9Z" fill="#fff" stroke="#242424" stroke-width="0.95" stroke-linejoin="miter"/>
<path d="M134.3 730.4L140.0 719.0L145.7 730.4Z" fill="#fff" stroke="#242424" stroke-width="0.95" stroke-linejoin="miter"/>
<path d="M169.5 729.9L175.2 718.5L180.9 729.9Z" fill="#fff" stroke="#242424" stroke-width="0.95" stroke-linejoin="miter"/>
<path d="M204.7 721.1L210.4 709.8L216.1 721.1Z" fill="#fff" stroke="#242424" stroke-width="0.95" stroke-linejoin="miter"/>
<path d="M240.3 722.9L246.0 711.5L251.7 722.9Z" fill="#fff" stroke="#242424" stroke-width="0.95" stroke-linejoin="miter"/>
<path d="M275.5 724.4L281.2 713.0L286.9 724.4Z" fill="#fff" stroke="#242424" stroke-width="0.95" stroke-linejoin="miter"/>
<path d="M310.9 725.4L316.6 714.0L322.3 725.4Z" fill="#fff" stroke="#242424" stroke-width="0.95" stroke-linejoin="miter"/>
<polyline points="104.5,755.4 140.0,759.5 175.2,762.5 210.4,763.4 246.0,765.5 281.2,763.7 316.6,765.8" fill="none" stroke="#2a2a2a" stroke-width="0.9"/>
<circle cx="104.5" cy="755.4" r="5.95" fill="#fff" stroke="#242424" stroke-width="0.95"/>
<circle cx="140.0" cy="759.5" r="5.95" fill="#fff" stroke="#242424" stroke-width="0.95"/>
<circle cx="175.2" cy="762.5" r="5.95" fill="#fff" stroke="#242424" stroke-width="0.95"/>
<circle cx="210.4" cy="763.4" r="5.95" fill="#fff" stroke="#242424" stroke-width="0.95"/>
<circle cx="246.0" cy="765.5" r="5.95" fill="#fff" stroke="#242424" stroke-width="0.95"/>
<circle cx="281.2" cy="763.7" r="5.95" fill="#fff" stroke="#242424" stroke-width="0.95"/>
<circle cx="316.6" cy="765.8" r="5.95" fill="#fff" stroke="#242424" stroke-width="0.95"/>
<polyline points="104.5,694.5 140.0,698.0 175.2,692.5 210.4,698.2 246.0,701.5 281.2,700.0 316.6,701.0" fill="none" stroke="#2a2a2a" stroke-width="0.9"/>
<path d="M104.5 687.9V701.1" stroke="#242424" stroke-width="0.95" fill="none"/>
<path d="M140.0 691.4V704.6" stroke="#242424" stroke-width="0.95" fill="none"/>
<path d="M175.2 685.9V699.1" stroke="#242424" stroke-width="0.95" fill="none"/>
<path d="M210.4 691.6V704.8" stroke="#242424" stroke-width="0.95" fill="none"/>
<path d="M246.0 694.9V708.1" stroke="#242424" stroke-width="0.95" fill="none"/>
<path d="M281.2 693.4V706.6" stroke="#242424" stroke-width="0.95" fill="none"/>
<path d="M316.6 694.4V707.6" stroke="#242424" stroke-width="0.95" fill="none"/>
<polyline points="104.5,768.8 140.0,769.5 175.2,771.8 210.4,771.5 246.0,775.0 281.2,775.0 316.6,783.0" fill="none" stroke="#2a2a2a" stroke-width="0.9"/>
<path d="M98.2 768.8L104.5 762.9L110.8 768.8L104.5 774.7Z" fill="#1c1c1c"/>
<path d="M133.7 769.5L140.0 763.6L146.3 769.5L140.0 775.4Z" fill="#1c1c1c"/>
<path d="M168.9 771.8L175.2 765.9L181.5 771.8L175.2 777.7Z" fill="#1c1c1c"/>
<path d="M204.1 771.5L210.4 765.6L216.7 771.5L210.4 777.4Z" fill="#1c1c1c"/>
<path d="M239.7 775.0L246.0 769.1L252.3 775.0L246.0 780.9Z" fill="#1c1c1c"/>
<path d="M274.9 775.0L281.2 769.1L287.5 775.0L281.2 780.9Z" fill="#1c1c1c"/>
<path d="M310.3 783.0L316.6 777.1L322.9 783.0L316.6 788.9Z" fill="#1c1c1c"/>
<polyline points="104.5,735.4 140.0,742.0 175.2,738.5 210.4,733.8 246.0,738.5 281.2,738.8 316.6,740.4" fill="none" stroke="#2a2a2a" stroke-width="0.9"/>
<rect x="98.4" y="729.4" width="12.2" height="12.0" fill="#1c1c1c"/>
<rect x="133.9" y="736.0" width="12.2" height="12.0" fill="#1c1c1c"/>
<rect x="169.1" y="732.5" width="12.2" height="12.0" fill="#1c1c1c"/>
<rect x="204.3" y="727.8" width="12.2" height="12.0" fill="#1c1c1c"/>
<rect x="239.9" y="732.5" width="12.2" height="12.0" fill="#1c1c1c"/>
<rect x="275.1" y="732.8" width="12.2" height="12.0" fill="#1c1c1c"/>
<rect x="310.5" y="734.4" width="12.2" height="12.0" fill="#1c1c1c"/>
<polyline points="104.5,708.5 140.0,718.0 175.2,716.0 210.4,715.7 246.0,717.5 281.2,719.0 316.6,720.0" fill="none" stroke="#2a2a2a" stroke-width="0.9"/>
<path d="M98.1 714.3L104.5 701.8L110.9 714.3Z" fill="#1c1c1c"/>
<path d="M133.6 723.8L140.0 711.3L146.4 723.8Z" fill="#1c1c1c"/>
<path d="M168.8 721.8L175.2 709.3L181.6 721.8Z" fill="#1c1c1c"/>
<path d="M204.0 721.5L210.4 709.0L216.8 721.5Z" fill="#1c1c1c"/>
<path d="M239.6 723.3L246.0 710.8L252.4 723.3Z" fill="#1c1c1c"/>
<path d="M274.8 724.8L281.2 712.3L287.6 724.8Z" fill="#1c1c1c"/>
<path d="M310.2 725.8L316.6 713.3L323.0 725.8Z" fill="#1c1c1c"/>
<polyline points="104.5,680.0 140.0,678.0 175.2,679.5 210.4,679.2 246.0,678.3 281.2,680.7 316.6,682.9" fill="none" stroke="#2a2a2a" stroke-width="0.9"/>
<circle cx="104.5" cy="680.0" r="6.35" fill="#1c1c1c"/>
<circle cx="140.0" cy="678.0" r="6.35" fill="#1c1c1c"/>
<circle cx="175.2" cy="679.5" r="6.35" fill="#1c1c1c"/>
<circle cx="210.4" cy="679.2" r="6.35" fill="#1c1c1c"/>
<circle cx="246.0" cy="678.3" r="6.35" fill="#1c1c1c"/>
<circle cx="281.2" cy="680.7" r="6.35" fill="#1c1c1c"/>
<circle cx="316.6" cy="682.9" r="6.35" fill="#1c1c1c"/>
</g>
<g id="legend">
<text transform="translate(336.60 12.20) scale(0.97 1)" text-anchor="start" style="font-size:15.5px;font-weight:700;letter-spacing:0.9px;">Subject</text>
<text transform="translate(409.20 12.20) scale(0.97 1)" text-anchor="start" style="font-size:15.5px;font-weight:700;letter-spacing:0.75px;">Wk Max</text>
<text transform="translate(491.60 12.20) scale(0.9 1)" text-anchor="start" style="font-size:15.5px;font-weight:700;letter-spacing:3.4px;">TT</text>
<path d="M344.8 30.9H371.2" stroke="#1c1c1c" stroke-width="0.8" fill="none"/>
<circle cx="358.0" cy="30.9" r="6.35" fill="#1c1c1c"/>
<text transform="translate(374.40 37.90) scale(0.88 1)" text-anchor="start" style="font-size:19.5px;font-weight:700;letter-spacing:0.6px;">1</text>
<text transform="translate(440.70 37.90) scale(0.88 1)" text-anchor="middle" style="font-size:19.5px;font-weight:700;">2</text>
<text transform="translate(486.40 38.20) scale(1.0 1)" text-anchor="start" style="font-size:20px;font-weight:700;letter-spacing:-0.5px;">+++</text>
<path d="M344.8 51.7H371.2" stroke="#1c1c1c" stroke-width="0.8" fill="none"/>
<path d="M351.6 57.5L358.0 45.0L364.4 57.5Z" fill="#1c1c1c"/>
<text transform="translate(374.40 58.70) scale(0.88 1)" text-anchor="start" style="font-size:19.5px;font-weight:700;letter-spacing:0.6px;">2</text>
<text transform="translate(440.70 58.70) scale(0.88 1)" text-anchor="middle" style="font-size:19.5px;font-weight:700;">8</text>
<text transform="translate(486.40 59.00) scale(1.0 1)" text-anchor="start" style="font-size:20px;font-weight:700;letter-spacing:-0.5px;">+</text>
<path d="M344.8 72.0H371.2" stroke="#1c1c1c" stroke-width="0.8" fill="none"/>
<rect x="351.9" y="66.0" width="12.2" height="12.0" fill="#1c1c1c"/>
<text transform="translate(374.40 79.00) scale(0.88 1)" text-anchor="start" style="font-size:19.5px;font-weight:700;letter-spacing:0.6px;">3</text>
<text transform="translate(440.70 79.00) scale(0.88 1)" text-anchor="middle" style="font-size:19.5px;font-weight:700;">2</text>
<text transform="translate(486.40 79.30) scale(1.0 1)" text-anchor="start" style="font-size:20px;font-weight:700;letter-spacing:-0.5px;">+++</text>
<path d="M344.8 92.3H371.2" stroke="#1c1c1c" stroke-width="0.8" fill="none"/>
<path d="M351.7 92.3L358.0 86.4L364.3 92.3L358.0 98.2Z" fill="#1c1c1c"/>
<text transform="translate(374.40 99.30) scale(0.88 1)" text-anchor="start" style="font-size:19.5px;font-weight:700;letter-spacing:0.6px;">4</text>
<text transform="translate(440.70 99.30) scale(0.88 1)" text-anchor="middle" style="font-size:19.5px;font-weight:700;">2</text>
<text transform="translate(486.40 99.60) scale(1.0 1)" text-anchor="start" style="font-size:20px;font-weight:700;letter-spacing:-0.5px;">+++</text>
<path d="M344.8 112.9H371.2" stroke="#1c1c1c" stroke-width="0.8" fill="none"/>
<path d="M358.0 106.3V119.5" stroke="#242424" stroke-width="0.95" fill="none"/>
<text transform="translate(374.40 119.90) scale(0.88 1)" text-anchor="start" style="font-size:19.5px;font-weight:700;letter-spacing:0.6px;">5</text>
<text transform="translate(440.70 119.90) scale(0.88 1)" text-anchor="middle" style="font-size:19.5px;font-weight:700;">2</text>
<text transform="translate(486.40 120.20) scale(1.0 1)" text-anchor="start" style="font-size:20px;font-weight:700;letter-spacing:-0.5px;">+</text>
<path d="M344.8 133.4H371.2" stroke="#1c1c1c" stroke-width="0.8" fill="none"/>
<circle cx="358.0" cy="133.4" r="5.95" fill="#fff" stroke="#242424" stroke-width="0.95"/>
<text transform="translate(374.40 140.40) scale(0.88 1)" text-anchor="start" style="font-size:19.5px;font-weight:700;letter-spacing:0.6px;">6</text>
<text transform="translate(440.70 140.40) scale(0.88 1)" text-anchor="middle" style="font-size:19.5px;font-weight:700;">8</text>
<text transform="translate(486.40 140.70) scale(1.0 1)" text-anchor="start" style="font-size:20px;font-weight:700;letter-spacing:-0.5px;">++</text>
<path d="M344.8 154.7H371.2" stroke="#1c1c1c" stroke-width="0.8" fill="none"/>
<path d="M352.3 160.1L358.0 148.8L363.7 160.1Z" fill="#fff" stroke="#242424" stroke-width="0.95" stroke-linejoin="miter"/>
<text transform="translate(374.40 161.70) scale(0.88 1)" text-anchor="start" style="font-size:19.5px;font-weight:700;letter-spacing:0.6px;">7</text>
<text transform="translate(440.70 161.70) scale(0.88 1)" text-anchor="middle" style="font-size:19.5px;font-weight:700;">2</text>
<text transform="translate(486.40 162.00) scale(1.0 1)" text-anchor="start" style="font-size:20px;font-weight:700;letter-spacing:-0.5px;">+++</text>
<path d="M344.8 174.5H371.2" stroke="#1c1c1c" stroke-width="0.8" fill="none"/>
<rect x="352.2" y="168.8" width="11.6" height="11.4" fill="#fff" stroke="#242424" stroke-width="0.95"/>
<text transform="translate(374.40 181.50) scale(0.88 1)" text-anchor="start" style="font-size:19.5px;font-weight:700;letter-spacing:0.6px;">8</text>
<text transform="translate(440.70 181.50) scale(0.88 1)" text-anchor="middle" style="font-size:19.5px;font-weight:700;">4</text>
<text transform="translate(486.40 181.80) scale(1.0 1)" text-anchor="start" style="font-size:20px;font-weight:700;letter-spacing:-0.5px;">++</text>
<path d="M344.8 195.0H371.2" stroke="#1c1c1c" stroke-width="0.8" fill="none"/>
<path d="M351.5 195.0L358.0 188.9L364.5 195.0L358.0 201.1Z" fill="#fff" stroke="#242424" stroke-width="0.95"/>
<text transform="translate(374.40 202.00) scale(0.88 1)" text-anchor="start" style="font-size:19.5px;font-weight:700;letter-spacing:0.6px;">9</text>
<text transform="translate(440.70 202.00) scale(0.88 1)" text-anchor="middle" style="font-size:19.5px;font-weight:700;">4</text>
<text transform="translate(486.40 202.30) scale(1.0 1)" text-anchor="start" style="font-size:20px;font-weight:700;letter-spacing:-0.5px;">++</text>
<path d="M344.8 215.8H371.2" stroke="#1c1c1c" stroke-width="0.8" fill="none"/>
<path d="M353.1 210.9L362.9 220.7M353.1 220.7L362.9 210.9M358.0 209.1V222.5" stroke="#242424" stroke-width="0.95" fill="none"/>
<text transform="translate(374.40 222.80) scale(0.88 1)" text-anchor="start" style="font-size:19.5px;font-weight:700;letter-spacing:0.6px;">10</text>
<text transform="translate(440.70 222.80) scale(0.88 1)" text-anchor="middle" style="font-size:19.5px;font-weight:700;">2</text>
<text transform="translate(486.40 223.10) scale(1.0 1)" text-anchor="start" style="font-size:20px;font-weight:700;letter-spacing:-0.5px;">++</text>
<path d="M344.8 238.8H371.2" stroke="#1c1c1c" stroke-width="0.8" fill="none"/>
<path d="M351.2 232.4L364.8 245.2M351.2 245.2L364.8 232.4" stroke="#242424" stroke-width="0.95" fill="none"/>
<text transform="translate(374.40 245.80) scale(0.88 1)" text-anchor="start" style="font-size:19.5px;font-weight:700;letter-spacing:0.6px;">11</text>
<text transform="translate(440.70 245.80) scale(0.88 1)" text-anchor="middle" style="font-size:19.5px;font-weight:700;">2</text>
<text transform="translate(486.40 246.10) scale(1.0 1)" text-anchor="start" style="font-size:20px;font-weight:700;letter-spacing:-0.5px;">+++</text>
<path d="M344.8 259.4H371.2" stroke="#1c1c1c" stroke-width="0.8" fill="none"/>
<path d="M358.0 252.8V266.0" stroke="#242424" stroke-width="0.95" fill="none"/>
<text transform="translate(374.40 266.40) scale(0.88 1)" text-anchor="start" style="font-size:19.5px;font-weight:700;letter-spacing:0.6px;">12</text>
<text transform="translate(440.70 266.40) scale(0.88 1)" text-anchor="middle" style="font-size:19.5px;font-weight:700;">2</text>
<text transform="translate(486.40 266.70) scale(1.0 1)" text-anchor="start" style="font-size:20px;font-weight:700;letter-spacing:-0.5px;">++</text>
</g>
<g id="week">
<path d="M94 859.6H191" stroke="#1c1c1c" stroke-width="1" fill="none"/>
<path d="M199.5 859.6L189 855.6V863.6Z" fill="#1c1c1c"/>
<text transform="translate(151.30 885.40) scale(0.87 1)" text-anchor="middle" style="font-size:19px;font-weight:700;letter-spacing:1.6px;">Week</text>
</g>
</svg>
</body>
</html>
